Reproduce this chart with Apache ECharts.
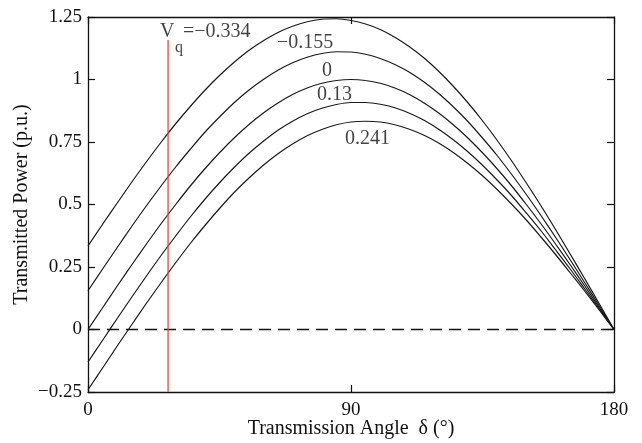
<!DOCTYPE html>
<html>
<head>
<meta charset="utf-8">
<script src="https://cdn.jsdelivr.net/npm/echarts@6/dist/echarts.min.js"></script>
<style>html,body{margin:0;padding:0;background:#fff;}#c{width:642px;height:443px;}</style>
</head>
<body>
<div id="c"></div>
<script>
// Transmission angle (degrees)
var angles = [0,5,10,15,20,25,30,35,40,45,50,55,60,65,70,75,80,85,90,95,100,105,110,115,120,125,130,135,140,145,150,155,160,165,170,175,180];
// Transmitted power (p.u.) for each Vq
var p_m0334 = [0.334,0.421,0.506,0.590,0.671,0.749,0.823,0.892,0.957,1.016,1.069,1.116,1.155,1.188,1.213,1.231,1.241,1.243,1.236,1.222,1.200,1.169,1.131,1.086,1.033,0.973,0.907,0.835,0.757,0.674,0.586,0.495,0.400,0.302,0.203,0.102,0];
var p_m0155 = [0.155,0.242,0.328,0.413,0.495,0.574,0.650,0.721,0.789,0.850,0.907,0.957,1.000,1.037,1.067,1.089,1.104,1.111,1.110,1.101,1.084,1.060,1.029,0.990,0.944,0.891,0.832,0.766,0.696,0.620,0.540,0.456,0.369,0.279,0.187,0.094,0];
var p_0     = [0,0.087,0.174,0.259,0.342,0.423,0.500,0.574,0.643,0.707,0.766,0.819,0.866,0.906,0.940,0.966,0.985,0.996,1.000,0.996,0.985,0.966,0.940,0.906,0.866,0.819,0.766,0.707,0.643,0.574,0.500,0.423,0.342,0.259,0.174,0.087,0];
var p_013   = [-0.130,-0.043,0.044,0.130,0.214,0.296,0.374,0.450,0.521,0.587,0.648,0.704,0.753,0.797,0.833,0.863,0.885,0.900,0.908,0.908,0.901,0.887,0.865,0.837,0.801,0.759,0.711,0.657,0.598,0.535,0.466,0.395,0.319,0.242,0.162,0.082,0];
var p_0241  = [-0.241,-0.154,-0.066,0.020,0.105,0.187,0.267,0.344,0.416,0.484,0.548,0.605,0.657,0.703,0.742,0.775,0.800,0.819,0.830,0.833,0.830,0.819,0.801,0.777,0.746,0.708,0.664,0.615,0.560,0.501,0.438,0.370,0.300,0.227,0.153,0.077,0];
// Vertical red marker line (angle, power range)
var markerAngle = 27.4;
var markerRange = [-0.25, 1.158];
// Axis ticks
var xTicks = [0, 90, 180];
var yTicks = [-0.25, 0, 0.25, 0.5, 0.75, 1, 1.25];
// Curve labels: [text, angle, power]
var curveLabels = [
  ['V', 24.64, 1.192],
  ['=\u22120.334', 32.51, 1.192],
  ['\u22120.155', 64.68, 1.146],
  ['0', 80.08, 1.036],
  ['0.13', 78.37, 0.938],
  ['0.241', 87.95, 0.762]
];
var subLabels = [['q', 29.77, 1.128]];

var FONT = "'Liberation Serif','Times New Roman',serif";
function pairs(ys){ return angles.map(function(a,i){ return [a, ys[i]]; }); }
function curve(ys){
  return {type:'line', data:pairs(ys), smooth:0.3, showSymbol:false, silent:true,
    lineStyle:{color:'#1a1a1a', width:1.2}, z:3};
}
function fmt(v){ var s = String(Math.round(v*100)/100); return s.replace('-', '\u2212'); }

var chart = echarts.init(document.getElementById('c'), null, {renderer:'canvas'});
var axisCommon = {
  type:'value', splitLine:{show:false},
  axisLine:{show:true, onZero:false, lineStyle:{color:'#111', width:1.3}},
  axisTick:{show:true, inside:true, length:7, lineStyle:{color:'#111', width:1.2}}
};
chart.setOption({
  animation:false,
  backgroundColor:'#fff',
  grid:{left:88, right:28, top:17, bottom:51, containLabel:false, outerBoundsMode:'none'},
  xAxis:[
    Object.assign({}, axisCommon, {position:'bottom', min:xTicks[0], max:xTicks[xTicks.length-1], interval:90,
      axisLabel:{show:true, margin:9, color:'#111', fontSize:19, fontFamily:FONT},
      name:'Transmission Angle  \u03b4 (\u00b0)', nameLocation:'middle', nameGap:27, nameMoveOverlap:false,
      nameTextStyle:{color:'#111', fontSize:20, fontFamily:FONT}}),
    Object.assign({}, axisCommon, {position:'top', min:xTicks[0], max:xTicks[xTicks.length-1], interval:90,
      axisLabel:{show:false}})
  ],
  yAxis:[
    Object.assign({}, axisCommon, {position:'left', min:yTicks[0], max:yTicks[yTicks.length-1], interval:0.25,
      axisLabel:{show:true, margin:6, color:'#111', fontSize:19, fontFamily:FONT, formatter:fmt},
      name:'Transmitted Power (p.u.)', nameLocation:'middle', nameGap:56, nameRotate:90, nameMoveOverlap:false,
      nameTextStyle:{color:'#111', fontSize:20, fontFamily:FONT}}),
    Object.assign({}, axisCommon, {position:'right', min:yTicks[0], max:yTicks[yTicks.length-1], interval:0.25,
      axisLabel:{show:false}})
  ],
  series:[
    {type:'line', data:[[xTicks[0],0],[xTicks[xTicks.length-1],0]], showSymbol:false, silent:true,
      lineStyle:{color:'#111', width:1.3, type:[12,7]}, z:2},
    {type:'line', data:[[markerAngle, markerRange[0]],[markerAngle, markerRange[1]]], showSymbol:false, silent:true,
      lineStyle:{color:'#e8473b', width:1.3}, z:4},
    curve(p_m0334), curve(p_m0155), curve(p_0), curve(p_013), curve(p_0241),
    {type:'scatter', symbolSize:0, silent:true, z:5,
      data:curveLabels.map(function(l){ return {name:l[0], value:[l[1], l[2]]}; }),
      label:{show:true, position:[0,0], align:'left', verticalAlign:'middle',
        formatter:function(p){return p.name;}, color:'#111', fontSize:20, fontFamily:FONT}},
    {type:'scatter', symbolSize:0, silent:true, z:5,
      data:subLabels.map(function(l){ return {name:l[0], value:[l[1], l[2]]}; }),
      label:{show:true, position:[0,0], align:'left', verticalAlign:'middle',
        formatter:function(p){return p.name;}, color:'#111', fontSize:16, fontFamily:FONT}}
  ]
});
</script>
</body>
</html>
